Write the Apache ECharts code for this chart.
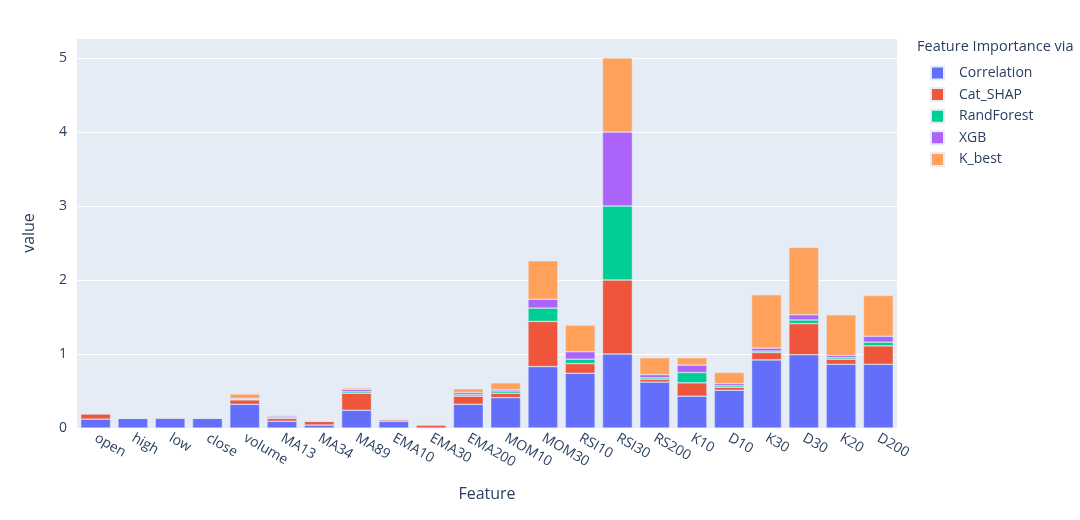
<!DOCTYPE html>
<html>
<head>
<meta charset="utf-8">
<script src="https://cdn.jsdelivr.net/npm/echarts@6/dist/echarts.min.js"></script>
<style>html,body{margin:0;padding:0;background:#fff}#c{width:1080px;height:520px}</style>
</head>
<body>
<div id="c"></div>
<script>
const categories = ['open','high','low','close','volume','MA13','MA34','MA89','EMA10','EMA30','EMA200','MOM10','MOM30','RSI10','RSI30','RS200','K10','D10','K30','D30','K20','D200'];
const seriesNames = ['Correlation','Cat_SHAP','RandForest','XGB','K_best'];
const correlation = [0.12,0.13,0.13,0.13,0.32,0.09,0.04,0.24,0.09,0.0,0.32,0.41,0.83,0.74,1.0,0.62,0.43,0.51,0.92,0.99,0.86,0.86];
const catShap     = [0.07,0.0,0.01,0.005,0.06,0.04,0.05,0.23,0.02,0.04,0.11,0.06,0.61,0.13,1.0,0.04,0.18,0.04,0.1,0.42,0.07,0.25];
const randForest  = [0.005,0.0,0.005,0.005,0.01,0.01,0.005,0.02,0.005,0.005,0.02,0.03,0.18,0.06,1.0,0.02,0.14,0.02,0.02,0.05,0.02,0.05];
const xgb         = [0.005,0.0,0.005,0.005,0.01,0.02,0.005,0.03,0.005,0.005,0.03,0.02,0.12,0.1,1.0,0.04,0.1,0.03,0.04,0.07,0.03,0.08];
const kBest       = [0.0,0.0,0.0,0.0,0.06,0.01,0.0,0.02,0.005,0.0,0.05,0.09,0.52,0.36,1.0,0.23,0.1,0.15,0.72,0.91,0.55,0.55];
const yTicks = [0,1,2,3,4,5];

const colors = ['#636EFA','#EF553B','#00CC96','#AB63FA','#FFA15A'];
const allData = [correlation, catShap, randForest, xgb, kBest];
const font = '"Open Sans", "DejaVu Sans", sans-serif';
const txt = '#2a3f5f';

const chart = echarts.init(document.getElementById('c'), null, {renderer:'canvas'});
chart.setOption({
  animation:false,
  color: colors,
  textStyle:{fontFamily:font, color:txt},
  grid:{left:77, right:183, top:38, bottom:92, show:true, backgroundColor:'#E5ECF6', borderWidth:0},
  graphic:[{type:'text', left:917, top:39, style:{text:'Feature Importance via', font:'14.5px ' + font, fill:txt}}],
  legend:{
    orient:'vertical', left:930, top:65, padding:0, itemWidth:13, itemHeight:13, itemGap:5.6,
    icon:'rect', data:seriesNames,
    textStyle:{fontFamily:font, fontSize:14, lineHeight:16, color:txt, padding:[0,0,0,10]}
  },
  xAxis:{
    type:'category', data:categories,
    name:'Feature', nameLocation:'middle', nameGap:58,
    nameTextStyle:{fontFamily:font, fontSize:16, color:txt},
    axisLine:{show:false}, axisTick:{show:false},
    axisLabel:{rotate:-30, interval:0, fontFamily:font, fontSize:14, color:txt, margin:9}
  },
  yAxis:{
    type:'value', min:0, max:5.27, interval:1,
    name:'value', nameLocation:'middle', nameGap:40, nameRotate:90,
    nameTextStyle:{fontFamily:font, fontSize:16, color:txt},
    axisLine:{show:false}, axisTick:{show:false},
    axisLabel:{fontFamily:font, fontSize:14, color:txt, margin:10,
      formatter:v => yTicks.includes(v) ? String(v) : ''},
    splitLine:{lineStyle:{color:'#ffffff', width:1}}
  },
  series: seriesNames.map((n,i)=>({
    name:n, type:'bar', stack:'total', data:allData[i],
    barCategoryGap:'20%',
    itemStyle:{color:colors[i], borderColor:'#E5ECF6', borderWidth:0.5}
  }))
});
</script>
</body>
</html>
